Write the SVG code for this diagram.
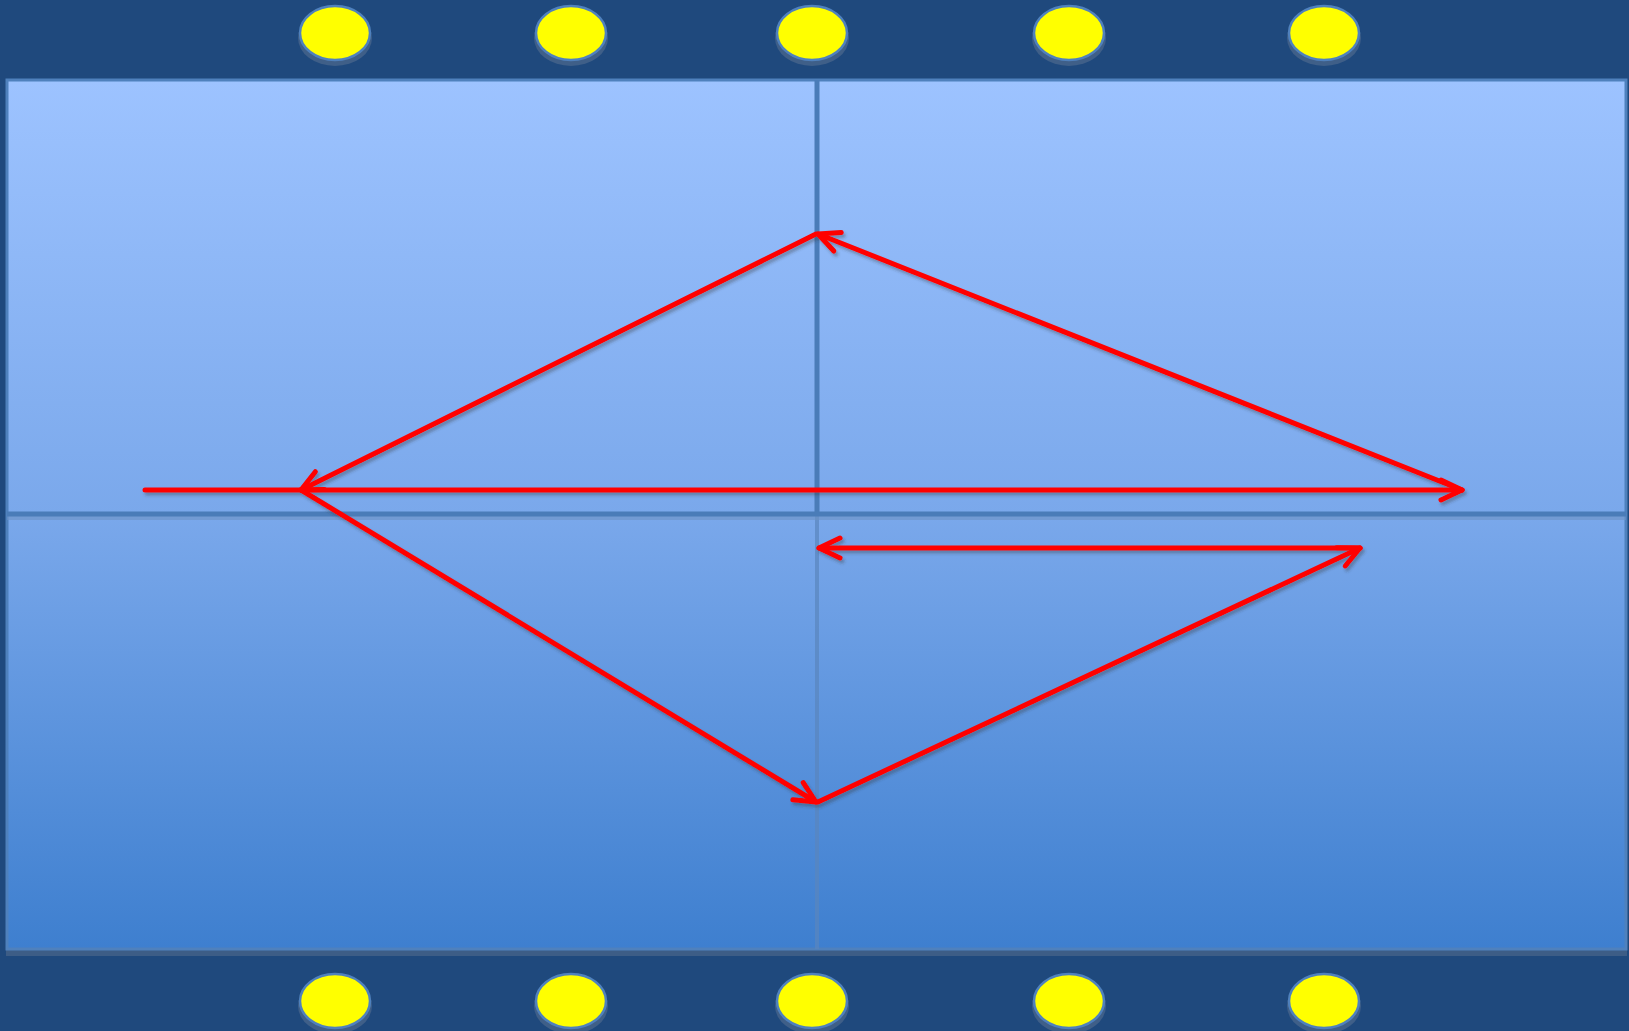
<svg xmlns="http://www.w3.org/2000/svg" width="1629" height="1031" viewBox="0 0 1629 1031">
<style>
.light{fill:#ffff00;stroke:#4f81bd;stroke-width:2.5}
.lightsh{fill:#3f5f88}
.arrow{fill:none;stroke:#ff0000;stroke-width:5;stroke-linecap:round;stroke-linejoin:round}
.div{stroke:#4a7cb8;stroke-width:5}
</style>
<defs>
<linearGradient id="court" x1="0" y1="0" x2="0" y2="1">
<stop offset="0" stop-color="#9dc3ff"/>
<stop offset="0.5" stop-color="#7aa8eb"/>
<stop offset="1" stop-color="#3e7fcf"/>
</linearGradient>
<filter id="sh" x="-5%" y="-5%" width="110%" height="110%">
<feDropShadow dx="2" dy="3" stdDeviation="1.5" flood-color="#303030" flood-opacity="0.35"/>
</filter>
<marker id="ah" markerUnits="userSpaceOnUse" orient="auto" overflow="visible" refX="0" refY="0" markerWidth="30" markerHeight="30">
<path d="M-21,-10 L0,0 L-21,10" class="arrow"/>
</marker>
</defs>
<rect width="1629" height="1031" fill="#1f497d"/>
<g id="court-area">
<rect x="6" y="87" width="1621" height="869" fill="#3d5d86"/>
<rect x="7" y="80" width="1619" height="869" fill="url(#court)" stroke="#4f81bd" stroke-width="3"/>
<line class="div" x1="817" y1="80" x2="817" y2="514"/>
<line x1="817" y1="514" x2="817" y2="949" stroke="#5a86be" stroke-width="4" opacity="0.7"/>
<line x1="7" y1="518" x2="1626" y2="518" stroke="#6e93c4" stroke-width="4" opacity="0.6"/>
<line class="div" x1="7" y1="514" x2="1626" y2="514"/>
</g>
<g id="lights-top">
<g id="light-t1"><ellipse class="lightsh" cx="335" cy="38" rx="37" ry="28"/><ellipse class="light" cx="335" cy="33" rx="35" ry="27"/></g>
<g id="light-t2"><ellipse class="lightsh" cx="571" cy="38" rx="37" ry="28"/><ellipse class="light" cx="571" cy="33" rx="35" ry="27"/></g>
<g id="light-t3"><ellipse class="lightsh" cx="812" cy="38" rx="37" ry="28"/><ellipse class="light" cx="812" cy="33" rx="35" ry="27"/></g>
<g id="light-t4"><ellipse class="lightsh" cx="1069" cy="38" rx="37" ry="28"/><ellipse class="light" cx="1069" cy="33" rx="35" ry="27"/></g>
<g id="light-t5"><ellipse class="lightsh" cx="1324" cy="38" rx="37" ry="28"/><ellipse class="light" cx="1324" cy="33" rx="35" ry="27"/></g>
</g>
<g id="lights-bottom">
<g id="light-b1"><ellipse class="lightsh" cx="335" cy="1006" rx="37" ry="28"/><ellipse class="light" cx="335" cy="1001" rx="35" ry="27"/></g>
<g id="light-b2"><ellipse class="lightsh" cx="571" cy="1006" rx="37" ry="28"/><ellipse class="light" cx="571" cy="1001" rx="35" ry="27"/></g>
<g id="light-b3"><ellipse class="lightsh" cx="812" cy="1006" rx="37" ry="28"/><ellipse class="light" cx="812" cy="1001" rx="35" ry="27"/></g>
<g id="light-b4"><ellipse class="lightsh" cx="1069" cy="1006" rx="37" ry="28"/><ellipse class="light" cx="1069" cy="1001" rx="35" ry="27"/></g>
<g id="light-b5"><ellipse class="lightsh" cx="1324" cy="1006" rx="37" ry="28"/><ellipse class="light" cx="1324" cy="1001" rx="35" ry="27"/></g>
</g>
<g id="connectors" filter="url(#sh)">
<line class="arrow" x1="145" y1="490" x2="1462" y2="490" marker-end="url(#ah)"/>
<line class="arrow" x1="1462" y1="490" x2="818" y2="234" marker-end="url(#ah)"/>
<line class="arrow" x1="816" y1="234" x2="301" y2="490" marker-end="url(#ah)"/>
<line class="arrow" x1="301" y1="490" x2="816" y2="802" marker-end="url(#ah)"/>
<line class="arrow" x1="818" y1="802" x2="1360" y2="548" marker-end="url(#ah)"/>
<line class="arrow" x1="1360" y1="548" x2="819" y2="548" marker-end="url(#ah)"/>
</g>
</svg>
